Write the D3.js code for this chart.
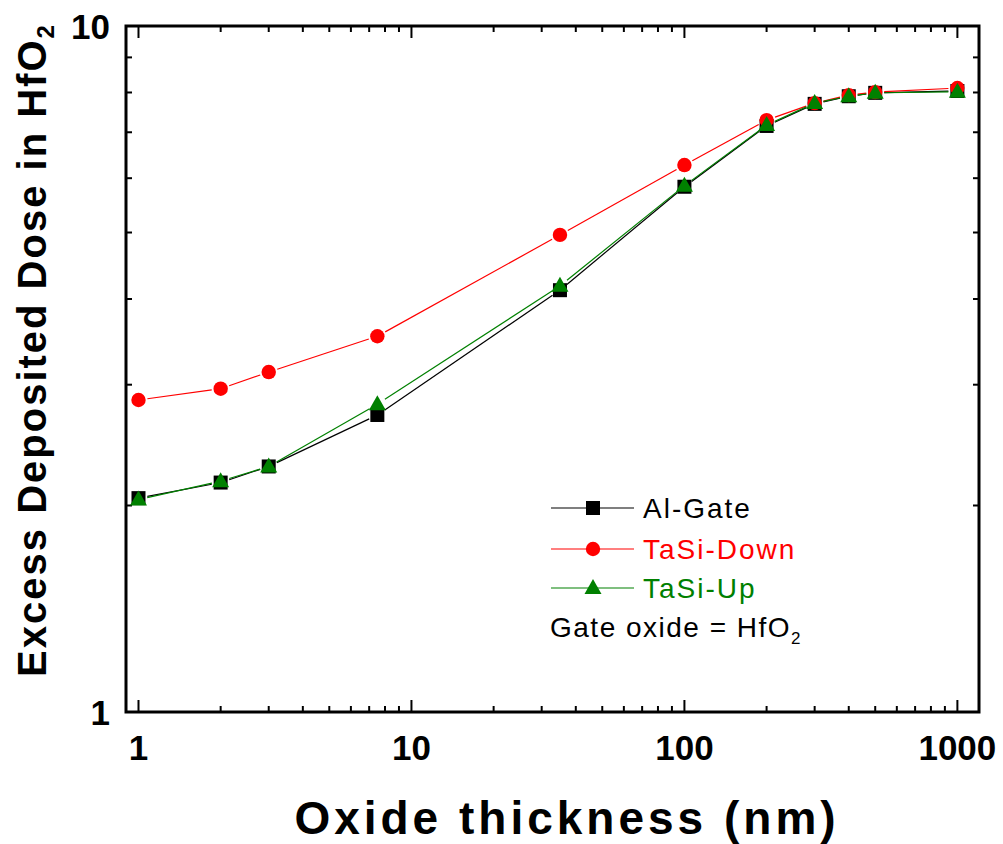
<!DOCTYPE html>
<html><head><meta charset="utf-8">
<script src="https://cdn.jsdelivr.net/npm/d3@7"></script>
<style>body{margin:0;background:#fff;} svg{display:block;}</style>
</head><body>
<svg id="c" width="1003" height="844"></svg>
<script>
const thickness = [1, 2, 3, 7.5, 35, 100, 200, 300, 400, 500, 1000];
const alGate   = [2.05, 2.16, 2.28, 2.71, 4.12, 5.83, 7.15, 7.70, 7.90, 7.99, 8.04];
const tasiDown = [2.85, 2.96, 3.13, 3.53, 4.96, 6.27, 7.29, 7.72, 7.93, 8.01, 8.12];
const tasiUp   = [2.04, 2.17, 2.28, 2.81, 4.18, 5.85, 7.17, 7.72, 7.90, 7.99, 8.02];
const xTickLabels = [1, 10, 100, 1000];
const yTickLabels = [1, 10];
const seriesNames = ["Al-Gate", "TaSi-Down", "TaSi-Up"];
const seriesColors = ["#000000", "#ff0000", "#008000"];
const seriesShapes = ["square", "circle", "triangle"];

const svg = d3.select("#c");
const L = 126, R = 979, T = 26, B = 712;
const x = d3.scaleLog().domain([0.9, 1200]).range([L, R]);
const y = d3.scaleLog().domain([1, 10]).range([B, T]);
const font = "'Liberation Sans', Arial, sans-serif";

const majors = [1, 10, 100, 1000];
const xMinor = [];
for (const d of [1, 10, 100, 1000]) for (let k = 1; k <= 9; k++) { const v = d * k; if (v >= 0.9 && v <= 1200) xMinor.push(v); }
const yMinor = [];
for (let k = 1; k <= 10; k++) yMinor.push(k);

const g = svg.append("g");
xMinor.forEach(v => {
  const len = majors.includes(v) ? 12 : 6;
  const px = x(v);
  g.append("line").attr("x1", px).attr("x2", px).attr("y1", B).attr("y2", B - len).attr("stroke", "#000").attr("stroke-width", 2);
  g.append("line").attr("x1", px).attr("x2", px).attr("y1", T).attr("y2", T + len).attr("stroke", "#000").attr("stroke-width", 2);
});
yMinor.forEach(v => {
  const len = (v === 1 || v === 10) ? 12 : 6;
  const py = y(v);
  g.append("line").attr("x1", L).attr("x2", L + len).attr("y1", py).attr("y2", py).attr("stroke", "#000").attr("stroke-width", 2);
  g.append("line").attr("x1", R).attr("x2", R - len).attr("y1", py).attr("y2", py).attr("stroke", "#000").attr("stroke-width", 2);
});
g.append("rect").attr("x", L).attr("y", T).attr("width", R - L).attr("height", B - T)
  .attr("fill", "none").attr("stroke", "#000").attr("stroke-width", 3);

xTickLabels.forEach(v => {
  svg.append("text").attr("x", x(v)).attr("y", 760).attr("text-anchor", "middle")
    .attr("font-family", font).attr("font-weight", "bold").attr("font-size", 35).text(v);
});
yTickLabels.forEach(v => {
  svg.append("text").attr("x", 110).attr("y", y(v) + 12.5).attr("text-anchor", "end")
    .attr("font-family", font).attr("font-weight", "bold").attr("font-size", 35).text(v);
});

svg.append("text").attr("x", 567).attr("y", 834).attr("text-anchor", "middle")
  .attr("font-family", font).attr("font-weight", "bold").attr("font-size", 46).attr("letter-spacing", 4)
  .text("Oxide thickness (nm)");
const yt = svg.append("text").attr("transform", "translate(46,350) rotate(-90)").attr("text-anchor", "middle")
  .attr("font-family", font).attr("font-weight", "bold").attr("font-size", 40).attr("letter-spacing", 2);
yt.append("tspan").text("Excess Deposited Dose in HfO");
yt.append("tspan").attr("font-size", 24).attr("dy", 8).text("2");

function drawMarker(sel, shape, cx, cy, color) {
  if (shape === "square") {
    sel.append("rect").attr("x", cx - 7).attr("y", cy - 7).attr("width", 14).attr("height", 14).attr("fill", color);
  } else if (shape === "circle") {
    sel.append("circle").attr("cx", cx).attr("cy", cy).attr("r", 7.2).attr("fill", color);
  } else {
    sel.append("path").attr("d", `M${cx},${cy - 9}L${cx + 8.5},${cy + 6}L${cx - 8.5},${cy + 6}Z`).attr("fill", color);
  }
}

const allSeries = [alGate, tasiDown, tasiUp];
allSeries.forEach((vals, i) => {
  const pts = thickness.map((t, j) => [x(t), y(vals[j])]);
  const sg = svg.append("g");
  const gap = 9;
  for (let j = 0; j < pts.length - 1; j++) {
    const [x1, y1] = pts[j], [x2, y2] = pts[j + 1];
    const dx = x2 - x1, dy = y2 - y1, len = Math.hypot(dx, dy);
    if (len <= 2 * gap) continue;
    const ux = dx / len, uy = dy / len;
    sg.append("line").attr("x1", x1 + ux * gap).attr("y1", y1 + uy * gap)
      .attr("x2", x2 - ux * gap).attr("y2", y2 - uy * gap)
      .attr("stroke", seriesColors[i]).attr("stroke-width", 1.2);
  }
  pts.forEach(p => drawMarker(sg, seriesShapes[i], p[0], p[1], seriesColors[i]));
});

const legY = [508, 549, 588];
seriesNames.forEach((n, i) => {
  svg.append("line").attr("x1", 551).attr("x2", 634).attr("y1", legY[i]).attr("y2", legY[i])
    .attr("stroke", seriesColors[i]).attr("stroke-width", 1.2);
  drawMarker(svg, seriesShapes[i], 593, legY[i], seriesColors[i]);
  svg.append("text").attr("x", 643).attr("y", legY[i] + 10).attr("font-family", font).attr("font-size", 28)
    .attr("letter-spacing", 2).attr("fill", seriesColors[i]).text(n);
});
const gt = svg.append("text").attr("x", 550).attr("y", 637).attr("font-family", font).attr("font-size", 28)
  .attr("letter-spacing", 1.5).attr("fill", "#000");
gt.append("tspan").text("Gate oxide = HfO");
gt.append("tspan").attr("font-size", 17).attr("dy", 7).text("2");
</script>
</body></html>
